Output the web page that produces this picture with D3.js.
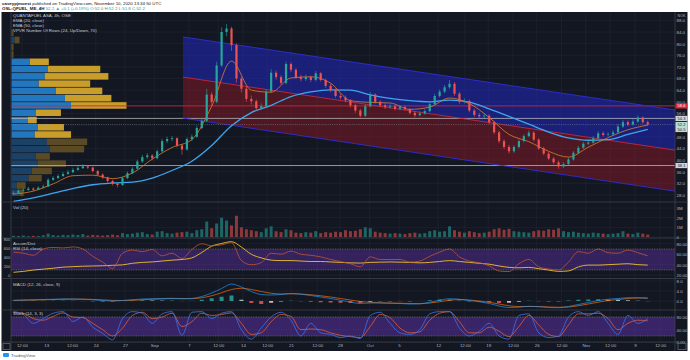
<!DOCTYPE html>
<html><head><meta charset="utf-8">
<script src="https://cdn.jsdelivr.net/npm/d3@7"></script>
<style>html,body{margin:0;padding:0;background:#fff;}svg{display:block;font-family:"Liberation Sans",Arial,sans-serif;}</style>
</head><body><svg id="c" width="690" height="360"></svg>
<script>
// ---------------- DATA ----------------
const closes = [28.7,29.5,29.7,30.2,29.8,30.5,30.9,33.2,33.8,34.5,35.2,35.8,36.6,37.2,37.8,37.4,36.2,35.0,34.0,32.8,31.9,31.4,33.8,35.5,37.0,39.5,41.0,41.6,40.6,43.0,46.5,47.2,47.5,45.0,43.6,47.2,48.0,51.0,53.5,62.5,60.0,72.5,84.0,85.2,79.5,68.0,64.5,61.0,60.2,57.8,58.5,63.5,70.0,68.5,66.5,73.0,71.0,68.5,67.8,68.5,67.5,69.8,67.5,65.5,64.0,62.0,61.5,60.5,58.8,57.0,55.2,58.5,62.5,60.0,58.8,58.2,58.5,57.6,58.2,57.5,56.2,55.4,56.0,56.8,59.2,62.0,63.5,65.0,66.2,62.8,60.0,60.3,57.0,55.5,55.0,55.2,53.0,49.5,46.5,44.5,43.0,44.5,46.5,48.2,49.4,47.0,44.0,42.2,40.5,39.2,37.8,38.6,40.2,42.5,44.2,45.6,46.0,47.5,49.2,48.6,48.8,49.5,51.5,53.0,52.2,53.2,54.6,53.0,52.2];
const firstOpen = 28.3;
const highs = [29.3,30.0,30.4,30.8,30.6,31.0,31.6,33.8,34.5,35.1,35.9,36.6,37.3,38.0,38.6,38.3,37.8,36.6,35.4,34.3,33.3,32.4,34.3,36.1,37.6,40.1,41.8,42.4,42.0,43.6,47.3,48.0,48.3,47.8,45.5,47.8,48.8,51.8,54.5,64.5,63.3,73.8,85.6,86.8,85.8,80.2,68.8,65.3,62.2,60.8,59.5,64.2,71.2,70.8,69.2,73.8,73.6,71.6,69.3,69.4,69.0,70.6,70.2,68.0,66.2,64.6,62.8,62.2,61.0,59.4,57.6,59.2,63.4,63.0,60.6,59.5,59.3,59.0,58.9,58.8,57.9,56.8,56.7,57.5,59.9,62.8,64.2,65.8,67.5,66.8,63.4,61.2,60.8,57.6,56.2,56.0,55.8,53.5,50.1,47.2,45.2,45.1,47.1,48.9,50.2,49.9,47.5,44.6,42.8,41.0,39.8,39.3,40.8,43.1,44.9,46.2,46.8,48.2,49.9,49.8,49.5,50.2,52.3,53.8,53.6,54.0,55.4,55.0,53.6];
const lows = [28.0,28.5,29.1,29.4,29.3,29.6,30.2,30.7,32.8,33.4,34.2,34.9,35.5,36.3,36.9,36.8,35.7,34.5,33.4,32.2,31.2,30.6,31.0,33.4,35.1,36.7,39.0,40.4,39.9,40.2,42.6,45.8,46.4,44.3,41.8,43.2,46.6,47.6,50.5,53.0,58.8,59.5,72.0,82.5,77.5,66.5,63.2,60.0,59.0,57.0,57.2,58.0,63.0,67.6,65.8,66.0,70.2,67.8,67.0,67.2,66.8,67.0,66.9,64.8,63.3,61.4,60.8,59.8,58.0,56.2,54.6,54.8,58.0,59.4,58.1,57.5,57.7,57.0,57.1,56.9,55.6,54.7,55.0,55.6,56.4,58.8,61.5,63.0,64.5,62.0,59.3,59.4,56.4,54.9,54.3,54.4,52.3,48.8,45.8,43.8,42.2,42.5,44.0,46.0,47.8,46.4,43.4,41.6,39.9,38.5,37.0,37.2,38.2,39.8,42.0,43.8,45.1,45.5,47.0,48.0,48.1,48.3,49.1,51.0,51.6,51.8,52.8,52.5,51.7];
const volumes = [0.12,0.10,0.15,0.08,0.12,0.10,0.18,0.35,0.20,0.15,0.22,0.18,0.25,0.20,0.30,0.15,0.22,0.18,0.15,0.20,0.25,
 0.18,0.40,0.30,0.35,0.45,0.50,0.30,0.25,0.55,0.60,0.40,0.35,0.45,0.50,0.55,0.40,0.70,0.80,
 1.60,0.90,1.40,2.00,1.70,1.20,2.20,1.00,0.80,
 0.70,0.60,0.50,0.90,1.10,0.60,0.50,0.80,0.70,0.45,0.40,0.50,0.45,0.60,0.40,0.50,0.45,0.55,0.50,0.70,0.60,0.65,0.80,
 1.00,0.90,0.55,0.45,0.40,0.35,0.40,0.35,0.30,0.40,0.45,0.35,0.40,0.60,0.70,0.55,0.60,1.10,0.70,0.55,0.45,0.60,0.50,0.40,0.45,0.55,0.80,0.90,0.75,0.85,
 0.60,0.55,0.50,0.45,0.60,0.70,0.65,0.80,0.75,0.90,0.60,0.50,0.55,0.45,0.40,0.35,0.45,0.40,0.35,0.30,0.35,0.40,0.60,0.35,0.30,0.45,0.35,0.25];
// EMA lines, one value every 4 candles
const ema20 = [28.3,29.3,31.8,34.6,34.8,33.6,35.5,40.3,44.3,47.0,58.5,74.0,64.0,63.3,68.2,68.6,66.4,60.4,59.8,59.6,57.4,58.2,61.3,59.4,54.6,48.8,46.3,43.0,41.0,44.4,47.7,50.4,52.0];
const ema50 = [25.8,27.0,28.6,30.2,31.5,32.1,32.4,33.8,36.4,39.6,45.0,51.8,56.3,58.8,61.8,63.4,64.1,64.0,62.4,61.2,60.4,60.0,60.6,59.9,57.6,55.0,52.3,49.6,47.6,46.8,47.0,48.8,50.5];
// regression channel (candle index, price)
const channelIdx = [34.2,133.5];
const channelUpper = [82.3,57.2];
const channelMid = [68.5,43.4];
const channelLower = [54.4,29.3];
// horizontal levels
const levelPrices = [58.6,54.3,38.1];
const levelKinds = ["red","white","white"];
// volume profile (price bins of 2.5 from 27.5)
const vpBinStart = 27.5, vpBinSize = 2.5;
const vpUp =   [8,5,17,20,26,24,38,35,23,26,16,24,59,53,44,27,33,36,18,0,0,3,0];
const vpDown = [4,9,13,20,28,14,34,40,36,26,9,25,55,46,46,51,63,52,19,2,2,5,2];
const vpValueArea = [47.5,75];
// indicators, one value every 2 candles
const rsi = [64,62,58,70,73,72,74,70,56,45,33,62,68,65,69,57,62,52,69,80,76,78,82,48,40,44,62,60,66,60,58,55,50,46,42,36,55,50,50,50,45,47,56,64,70,55,47,44,38,28,27,42,50,36,32,30,45,65,62,70,63,62,68,63,57];
const accDist = [60,80,110,130,150,175,185,195,200,205,215,225,260,280,290,310,330,345,380,500,640,700,740,620,460,380,330,320,320,310,300,300,290,280,270,265,280,285,290,285,280,270,280,300,320,300,280,260,240,200,170,160,170,140,110,80,90,180,220,220,230,240,250,230,220];
const macdLine = [0.3,0.4,0.5,0.6,0.7,0.8,0.8,0.7,0.5,0.2,0.0,0.2,0.5,0.8,0.9,1.0,1.1,0.9,1.0,1.8,3.2,5.0,6.8,5.6,3.8,2.6,2.4,2.6,3.0,2.7,2.2,1.6,1.0,0.3,-0.4,-1.0,-0.8,-0.8,-0.9,-1.0,-1.2,-1.1,-0.5,0.3,0.9,0.7,0.2,-0.3,-1.0,-2.0,-2.6,-2.5,-2.1,-2.3,-2.6,-2.7,-2.2,-1.4,-0.6,0.2,0.7,1.0,1.3,1.3,1.1];
const macdSignal = [0.2,0.3,0.4,0.5,0.6,0.7,0.75,0.75,0.65,0.45,0.25,0.2,0.3,0.5,0.7,0.85,0.95,0.95,0.95,1.3,2.1,3.3,4.6,5.1,4.6,3.8,3.1,2.8,2.9,2.8,2.5,2.1,1.6,1.0,0.4,-0.2,-0.5,-0.7,-0.8,-0.9,-1.0,-1.1,-0.8,-0.3,0.3,0.6,0.4,0.0,-0.5,-1.2,-1.9,-2.2,-2.2,-2.2,-2.4,-2.5,-2.4,-1.9,-1.2,-0.5,0.2,0.6,1.0,1.2,1.2];
const stochK = [97,88,60,75,92,97,66,80,48,28,8,75,97,92,60,90,97,22,95,97,75,92,97,40,10,45,80,95,70,20,60,30,25,15,20,12,85,95,60,30,25,40,90,97,97,45,20,35,60,20,10,85,90,30,15,20,80,97,85,97,60,25,85,60,75];
const stochD = [95,92,75,70,82,93,80,78,60,40,20,45,85,95,75,80,92,50,65,92,85,88,93,60,25,30,65,88,82,40,42,40,30,22,18,15,50,88,78,45,30,33,70,92,97,65,30,30,48,35,18,50,85,55,25,18,55,90,90,92,75,40,60,70,68];
// axes
const timeTickIdx = [1.7,6.6,11.8,16.6,22.5,28.4,35.4,41.3,46.3,51.2,56.0,61.3,65.9,71.9,77.8,85.7,91.1,95.8,100.8,105.6,110.6,115.5,120.4,125.4,130.5];
const timeTickLabels = ["12:00","13","12:00","24","27","Sep","7","12:00","14","12:00","21","12:00","28","Oct","5","12","12:00","19","12:00","26","12:00","Nov","12:00","9","12:00"];
const priceTicks = [28,32,36,40,44,48,52,56,60,64,68,72,76,80,84,88];
const volTicks = [0,1,2,3];
const rsiTicks = [20,40,60,80];
const adTicks = [0,200,400,600,800];
const macdTicks = [0,4,8];
const stochTicks = [0,40,80];
const headerUser = "caseypjmoest";
const headerRest = " published on TradingView.com, November 10, 2020 13:34:50 UTC";
const symbolText = "OSL:QFUEL_ME, 4H";
const quoteText = "52.2 ▲ +0.1 (+0.19%) O:52.0 H:52.2 L:51.8 C:52.2";
const legendMain = ["QUANTAFUEL ASA, 4h, OSE","EMA (20, close)","EMA (50, close)","VPVR Number Of Rows (24, Up/Down, 70)"];

// ---------------- DRAW ----------------
const svg = d3.select("#c");
const X0 = 11, X1 = 675, CT = 12, CB = 351;
const x = d3.scaleLinear().domain([-0.5,133.5]).range([X0,X1]);
const yMain = d3.scaleLinear().domain([25.57,90.87]).range([202,12]);
const yVol = d3.scaleLinear().domain([0,3.62]).range([237,202]);
const yRsi = d3.scaleLinear().domain([14.76,90.95]).range([278,238]);
const yAD = d3.scaleLinear().domain([-66.7,822]).range([278,238]);
const yMacd = d3.scaleLinear().domain([-3.6,8.8]).range([310,279]);
const yStoch = d3.scaleLinear().domain([0,100]).range([342.3,310.7]);
const panels = [[12,202],[202,238],[238,278.5],[278.5,310],[310,342]];
const TXT = "#b2b5be", FS = 4.4;

svg.append("rect").attr("width",690).attr("height",360).attr("fill","#fff");
svg.append("rect").attr("x",1.5).attr("y",CT).attr("width",686).attr("height",CB-CT).attr("fill","#131722");

const defs = svg.append("defs");
panels.forEach((p,i)=>{
  defs.append("clipPath").attr("id","clip"+i).append("rect").attr("x",X0).attr("y",p[0]).attr("width",X1-X0).attr("height",p[1]-p[0]);
});

// grid
const grid = svg.append("g").attr("stroke","#232733").attr("stroke-width",0.6);
timeTickIdx.forEach(t=>grid.append("line").attr("x1",x(t)).attr("x2",x(t)).attr("y1",CT).attr("y2",342));
const hgrid = (ticks, sc) => ticks.forEach(t=>grid.append("line").attr("x1",X0).attr("x2",X1).attr("y1",sc(t)).attr("y2",sc(t)));
hgrid(priceTicks,yMain); hgrid(volTicks,yVol); hgrid(rsiTicks,yRsi); hgrid(macdTicks,yMacd); hgrid(stochTicks,yStoch);

// ---- main panel
const gMain = svg.append("g").attr("clip-path","url(#clip0)");
const chData = channelIdx.map((d,i)=>({i:d,u:channelUpper[i],m:channelMid[i],l:channelLower[i]}));
gMain.append("path").datum(chData).attr("fill","rgba(33,40,190,0.55)")
  .attr("d",d3.area().x(d=>x(d.i)).y0(d=>yMain(d.m)).y1(d=>yMain(d.u)));
gMain.append("path").datum(chData).attr("fill","rgba(150,25,40,0.45)")
  .attr("d",d3.area().x(d=>x(d.i)).y0(d=>yMain(d.l)).y1(d=>yMain(d.m)));

// volume profile
const vpW = d3.scaleLinear().domain([0,114]).range([0,115]);
vpUp.forEach((u,k)=>{
  const lo = vpBinStart + k*vpBinSize, hi = lo + vpBinSize;
  const inVA = lo >= vpValueArea[0] && hi <= vpValueArea[1];
  const yt = yMain(hi)+0.35, h = yMain(lo)-yMain(hi)-0.7;
  gMain.append("rect").attr("x",X0+0.5).attr("y",yt).attr("width",vpW(u)).attr("height",h)
    .attr("fill",inVA?"#2377bf":"#1c4166");
  gMain.append("rect").attr("x",X0+0.5+vpW(u)).attr("y",yt).attr("width",vpW(vpDown[k])).attr("height",h)
    .attr("fill",inVA?"#c99d2a":"#5a4b26");
});

// levels
levelPrices.forEach((v,i)=>{
  gMain.append("line").attr("x1",X0).attr("x2",X1).attr("y1",yMain(v)).attr("y2",yMain(v))
    .attr("stroke",levelKinds[i]==="red"?"#c8283c":"#b8b8b8").attr("stroke-width",levelKinds[i]==="red"?0.9:0.8);
});
// channel lines
const lineCh = key => d3.line().x(d=>x(d.i)).y(d=>yMain(d[key]));
gMain.append("path").datum(chData).attr("d",lineCh("u")).attr("stroke","#2f2fd6").attr("stroke-width",0.9).attr("fill","none");
gMain.append("path").datum(chData).attr("d",lineCh("m")).attr("stroke","#c8283c").attr("stroke-width",0.9).attr("fill","none");
gMain.append("path").datum(chData).attr("d",lineCh("l")).attr("stroke","#2f2fd6").attr("stroke-width",0.9).attr("fill","none");

// last price dotted
const lastClose = closes[closes.length-1];
gMain.append("line").attr("x1",X0).attr("x2",X1).attr("y1",yMain(lastClose)).attr("y2",yMain(lastClose))
  .attr("stroke","#8a8d96").attr("stroke-width",0.5).attr("stroke-dasharray","1,1.2");

// EMAs
const emaLine = d3.line().x((d,i)=>x(i*4)).y(d=>yMain(d)).curve(d3.curveMonotoneX);
gMain.append("path").datum(ema50).attr("d",emaLine).attr("stroke","#3da5f0").attr("stroke-width",1.3).attr("fill","none");
gMain.append("path").datum(ema20).attr("d",emaLine).attr("stroke","#d9822b").attr("stroke-width",0.8).attr("fill","none");

// candles
const candles = closes.map((c,i)=>({i, o: i===0?firstOpen:closes[i-1], c, h:highs[i], l:lows[i]}));
const gC = gMain.append("g");
candles.forEach(d=>{
  const col = d.c>=d.o ? "#26a69a" : "#ef5350";
  gC.append("line").attr("x1",x(d.i)).attr("x2",x(d.i)).attr("y1",yMain(d.h)).attr("y2",yMain(d.l)).attr("stroke",col).attr("stroke-width",0.6);
  const y1 = yMain(Math.max(d.o,d.c)), y2 = yMain(Math.min(d.o,d.c));
  gC.append("rect").attr("x",x(d.i)-1.1).attr("y",y1).attr("width",2.2).attr("height",Math.max(0.6,y2-y1)).attr("fill",col);
});

// ---- volume panel
const gVol = svg.append("g").attr("clip-path","url(#clip1)");
volumes.forEach((v,i)=>{
  const up = candles[i].c>=candles[i].o;
  gVol.append("rect").attr("x",x(i)-1.5).attr("y",yVol(v)).attr("width",3).attr("height",yVol(0)-yVol(v))
    .attr("fill",up?"rgba(38,166,154,0.55)":"rgba(239,83,80,0.55)");
});

// ---- RSI / AccDist panel
const gR = svg.append("g").attr("clip-path","url(#clip2)");
gR.append("rect").attr("x",X0).attr("width",X1-X0).attr("y",yRsi(70)).attr("height",yRsi(30)-yRsi(70)).attr("fill","rgba(126,60,230,0.3)");
[70,30].forEach(v=>gR.append("line").attr("x1",X0).attr("x2",X1).attr("y1",yRsi(v)).attr("y2",yRsi(v)).attr("stroke","#8c8f99").attr("stroke-width",0.5).attr("stroke-dasharray","1.2,1.2"));
const l2 = sc => d3.line().x((d,i)=>x(i*2)).y(d=>sc(d)).curve(d3.curveMonotoneX);
gR.append("path").datum(accDist).attr("d",l2(yAD)).attr("stroke","#f0c330").attr("stroke-width",0.9).attr("fill","none");
gR.append("path").datum(rsi).attr("d",l2(yRsi)).attr("stroke","#c4572f").attr("stroke-width",0.8).attr("fill","none");

// ---- MACD panel
const gM = svg.append("g").attr("clip-path","url(#clip3)");
macdLine.forEach((m,j)=>{
  const h = m - macdSignal[j];
  const prev = j>0 ? macdLine[j-1]-macdSignal[j-1] : h;
  const col = h>=0 ? (h>=prev?"#26a69a":"#b2dfdb") : (h<=prev?"#ef5350":"#ffcdd2");
  gM.append("rect").attr("x",x(j*2)-2).attr("width",4).attr("y",Math.min(yMacd(h),yMacd(0))).attr("height",Math.abs(yMacd(h)-yMacd(0))).attr("fill",col).attr("opacity",0.85);
});
gM.append("path").datum(macdSignal).attr("d",l2(yMacd)).attr("stroke","#ff6d00").attr("stroke-width",0.7).attr("fill","none");
gM.append("path").datum(macdLine).attr("d",l2(yMacd)).attr("stroke","#2196f3").attr("stroke-width",0.7).attr("fill","none");

// ---- Stoch panel
const gS = svg.append("g").attr("clip-path","url(#clip4)");
gS.append("rect").attr("x",X0).attr("width",X1-X0).attr("y",yStoch(80)).attr("height",yStoch(20)-yStoch(80)).attr("fill","rgba(126,60,230,0.35)");
[80,20].forEach(v=>gS.append("line").attr("x1",X0).attr("x2",X1).attr("y1",yStoch(v)).attr("y2",yStoch(v)).attr("stroke","#8c8f99").attr("stroke-width",0.5).attr("stroke-dasharray","1.2,1.2"));
gS.append("path").datum(stochD).attr("d",l2(yStoch)).attr("stroke","#e0603a").attr("stroke-width",0.8).attr("fill","none");
gS.append("path").datum(stochK).attr("d",l2(yStoch)).attr("stroke","#3a74f0").attr("stroke-width",0.8).attr("fill","none");

// separators
const sep = svg.append("g").attr("stroke","#434651").attr("stroke-width",0.7);
[202,238,278.5,310,342].forEach(y=>sep.append("line").attr("x1",1.5).attr("x2",687.5).attr("y1",y).attr("y2",y));
sep.append("line").attr("x1",X0).attr("x2",X0).attr("y1",CT).attr("y2",CB);
sep.append("line").attr("x1",X1).attr("x2",X1).attr("y1",CT).attr("y2",CB);

// axes
function rAxis(sc, ticks, fmt){
  const g = svg.append("g").attr("transform",`translate(${X1+1.5},0)`)
    .call(d3.axisRight(sc).tickValues(ticks).tickFormat(fmt).tickSize(0).tickPadding(0));
  g.select(".domain").remove();
  g.selectAll("text").attr("fill",TXT).attr("font-size",FS);
  return g;
}
rAxis(yMain, priceTicks, d3.format(".1f"));
rAxis(yVol, volTicks.slice(), d=>d===0?"0":d+"M");
rAxis(yRsi, rsiTicks, d3.format(".2f"));
rAxis(yMacd, macdTicks, d3.format(".1f"));
rAxis(yStoch, stochTicks, d3.format(".2f"));
const la = svg.append("g").attr("transform",`translate(${X0-1},0)`)
  .call(d3.axisLeft(yAD).tickValues(adTicks).tickFormat(d3.format("d")).tickSize(0).tickPadding(0));
la.select(".domain").remove();
la.selectAll("text").attr("fill",TXT).attr("font-size",3.8);
const ba = svg.append("g").attr("transform",`translate(0,344)`)
  .call(d3.axisBottom(x).tickValues(timeTickIdx).tickFormat((d,i)=>timeTickLabels[i]).tickSize(0).tickPadding(0));
ba.select(".domain").remove();
ba.selectAll("text").attr("fill",TXT).attr("font-size",FS);

// price labels on right axis
function tag(v, bg, fg){
  const y = yMain(v);
  svg.append("rect").attr("x",X1+0.5).attr("y",y-2.6).attr("width",12).attr("height",5.2).attr("fill",bg);
  svg.append("text").attr("x",X1+6.5).attr("y",y+1.4).attr("text-anchor","middle").attr("font-size",4.0).attr("fill",fg).text(d3.format(".1f")(v));
}
levelPrices.forEach((v,i)=> levelKinds[i]==="red" ? tag(v,"#e0263a","#fff") : tag(v,"#d1d4dc","#131722"));
tag(lastClose,"#b8e0d8","#131722");
tag(ema50[ema50.length-1],"#c9d6cf","#131722");
svg.append("text").attr("x",X1+6.5).attr("y",17).attr("text-anchor","middle").attr("font-size",3.6).attr("fill",TXT).text("NOK");

// legends
const leg = svg.append("g").attr("font-size",FS).attr("fill","#c8cad2");
legendMain.forEach((t,i)=>leg.append("text").attr("x",13).attr("y",17+i*5).text(t));
leg.append("text").attr("x",13).attr("y",209).text("Vol (20)");
leg.append("text").attr("x",13).attr("y",244.5).text("Accum/Dist");
leg.append("text").attr("x",13).attr("y",249.5).text("RSI (14, close)");
leg.append("text").attr("x",13).attr("y",285.5).text("MACD (12, 26, close, 9)");
leg.append("text").attr("x",13).attr("y",315).text("Stoch (14, 3, 3)");

// header
const h1 = svg.append("text").attr("x",2).attr("y",5).attr("font-size",4.4).attr("fill","#131722");
h1.append("tspan").attr("font-weight","bold").text(headerUser);
h1.append("tspan").text(headerRest);
const h2 = svg.append("text").attr("x",2).attr("y",10).attr("font-size",4.4).attr("fill","#131722");
h2.append("tspan").attr("font-weight","bold").text(symbolText+" ");
h2.append("tspan").attr("fill","#26a69a").text(quoteText);

// footer
svg.append("rect").attr("x",3).attr("y",353).attr("width",6).attr("height",4).attr("rx",1).attr("fill","#2196f3");
svg.append("text").attr("x",11).attr("y",357).attr("font-size",4.4).attr("fill","#50535e").text("TradingView");
svg.append("rect").attr("x",678).attr("y",343.5).attr("width",8).attr("height",6).attr("fill","none").attr("stroke","#555");
svg.append("rect").attr("x",3).attr("y",343.5).attr("width",7).attr("height",6).attr("fill","none").attr("stroke","#555");
</script></body></html>
